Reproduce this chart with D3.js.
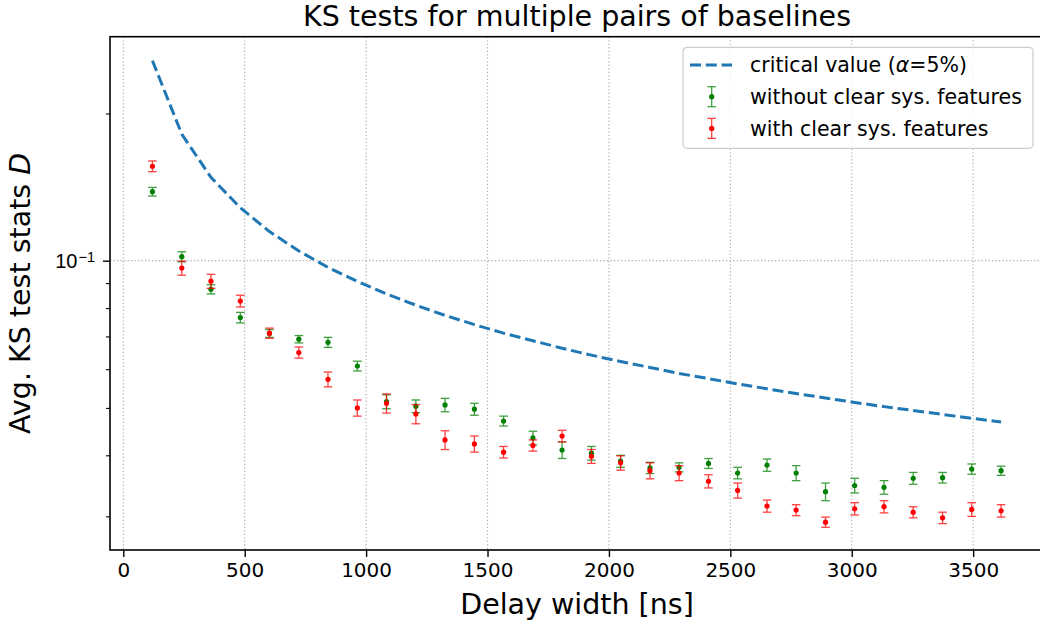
<!DOCTYPE html>
<html>
<head>
<meta charset="utf-8">
<script src="https://cdn.jsdelivr.net/npm/d3@7"></script>
<style>
  body { margin: 0; background: #fff; }
  svg { font-family: "DejaVu Sans", sans-serif; }
</style>
</head>
<body>
<div id="chart"></div>
<script>
// delay widths [ns]
const delays = [120, 241, 361, 482, 602, 723, 843, 964, 1084, 1205, 1325, 1446, 1566, 1687, 1807,
  1928, 2048, 2169, 2289, 2410, 2530, 2651, 2771, 2892, 3012, 3133, 3253, 3374, 3494, 3615];

// critical value of the KS test (alpha = 5%)
const critical = [0.2565, 0.1814, 0.1481, 0.1283, 0.1147, 0.1047, 0.0969, 0.0907, 0.0855, 0.0811,
  0.0773, 0.0740, 0.0711, 0.0686, 0.0662, 0.0641, 0.0622, 0.0605, 0.0588, 0.0574,
  0.0560, 0.0547, 0.0535, 0.0524, 0.0513, 0.0503, 0.0494, 0.0485, 0.0476, 0.0468];

// without clear sys. features (green)
const cleanMean = [0.1384, 0.1019, 0.0874, 0.0765, 0.0710, 0.0691, 0.0681, 0.0609, 0.0515, 0.0504,
  0.0507, 0.0497, 0.0470, 0.0434, 0.0410, 0.0404, 0.0389, 0.0377, 0.0378, 0.0385,
  0.0368, 0.0382, 0.0368, 0.0337, 0.0347, 0.0344, 0.0359, 0.0360, 0.0375, 0.0372];
const cleanErr = [0.0028, 0.0024, 0.0019, 0.0019, 0.0013, 0.0012, 0.0016, 0.0014, 0.0017, 0.0015,
  0.0016, 0.0014, 0.0011, 0.0014, 0.0016, 0.0013, 0.0011, 0.0010, 0.0008, 0.0009,
  0.0010, 0.0011, 0.0013, 0.0014, 0.0012, 0.0011, 0.0010, 0.0009, 0.0009, 0.0008];

// with clear sys. features (red)
const sysMean = [0.1560, 0.0966, 0.0908, 0.0827, 0.0711, 0.0649, 0.0572, 0.0500, 0.0511, 0.0486,
  0.0430, 0.0422, 0.0406, 0.0419, 0.0438, 0.0398, 0.0386, 0.0372, 0.0368, 0.0354,
  0.0339, 0.0315, 0.0309, 0.0292, 0.0311, 0.0314, 0.0306, 0.0298, 0.0310, 0.0308];
const sysErr = [0.0039, 0.0032, 0.0030, 0.0023, 0.0017, 0.0017, 0.0020, 0.0019, 0.0023, 0.0022,
  0.0019, 0.0016, 0.0011, 0.0011, 0.0012, 0.0013, 0.0013, 0.0014, 0.0013, 0.0011,
  0.0012, 0.0009, 0.0008, 0.0007, 0.0009, 0.0009, 0.0008, 0.0008, 0.0010, 0.0009];

const xTicks = [0, 500, 1000, 1500, 2000, 2500, 3000, 3500];
const yMajorTicks = [0.1];
const yMinorTicks = [0.03, 0.04, 0.05, 0.06, 0.07, 0.08, 0.09, 0.2];

const width = 1040;
const height = 630;
const margin = { top: 36.7, right: -3.5, bottom: 80, left: 110 };
const plotW = width - margin.left - margin.right;
const plotH = height - margin.top - margin.bottom;

const svg = d3.select("#chart")
  .append("svg")
  .attr("width", width)
  .attr("height", height);

svg.append("rect").attr("width", width).attr("height", height).attr("fill", "#fff");

const xScale = d3.scaleLinear().domain([-54.7, 3789.7]).range([0, plotW]);
const yScale = d3.scaleLog().domain([0.02561, 0.2871]).range([plotH, 0]);

const g = svg.append("g")
  .attr("transform", `translate(${margin.left},${margin.top})`);

svg.append("defs").append("clipPath").attr("id", "clip")
  .append("rect").attr("width", plotW).attr("height", plotH);

// grid
const grid = g.append("g").attr("stroke", "#b0b0b0").attr("stroke-width", 1.2)
  .attr("stroke-dasharray", "1.3,2.2");
grid.selectAll(".gx").data(xTicks).join("line")
  .attr("x1", d => xScale(d)).attr("x2", d => xScale(d))
  .attr("y1", 0).attr("y2", plotH);
grid.selectAll(".gy").data(yMajorTicks).join("line")
  .attr("x1", 0).attr("x2", plotW)
  .attr("y1", d => yScale(d)).attr("y2", d => yScale(d));

const plot = g.append("g").attr("clip-path", "url(#clip)");

// critical value curve
const line = d3.line()
  .x((d, i) => xScale(delays[i]))
  .y(d => yScale(d));

plot.append("path")
  .datum(critical)
  .attr("fill", "none")
  .attr("stroke", "#1f77b4")
  .attr("stroke-width", 3)
  .attr("stroke-dasharray", "11,4.8")
  .attr("d", line);

// error bars
function drawSeries(means, errs, color) {
  const s = plot.append("g");
  const bars = s.append("g").attr("stroke", color).attr("stroke-width", 1.3).attr("opacity", 0.75);
  means.forEach((m, i) => {
    const x = xScale(delays[i]);
    const y0 = yScale(m - errs[i]);
    const y1 = yScale(m + errs[i]);
    bars.append("line").attr("x1", x).attr("x2", x).attr("y1", y0).attr("y2", y1);
    bars.append("line").attr("x1", x - 4.3).attr("x2", x + 4.3).attr("y1", y0).attr("y2", y0);
    bars.append("line").attr("x1", x - 4.3).attr("x2", x + 4.3).attr("y1", y1).attr("y2", y1);
  });
  s.selectAll("circle").data(means).join("circle")
    .attr("cx", (d, i) => xScale(delays[i]))
    .attr("cy", d => yScale(d))
    .attr("r", 2.6)
    .attr("fill", color);
}
drawSeries(cleanMean, cleanErr, "green");
drawSeries(sysMean, sysErr, "red");

// axes
const xAxis = g.append("g")
  .attr("transform", `translate(0,${plotH})`)
  .call(d3.axisBottom(xScale).tickValues(xTicks).tickSize(7).tickPadding(6).tickFormat(d3.format("d")));
xAxis.select(".domain").remove();
xAxis.selectAll("line").attr("stroke-width", 1.4);
xAxis.selectAll("text").attr("font-size", 20).attr("fill", "#000").attr("font-family", "DejaVu Sans");

const yAxis = g.append("g")
  .call(d3.axisLeft(yScale).tickValues(yMajorTicks).tickSize(7).tickPadding(6).tickFormat(""));
yAxis.select(".domain").remove();
yAxis.selectAll("line").attr("stroke-width", 1.4);
yAxis.selectAll(".tick").append("text")
  .attr("x", -15).attr("dy", "0.36em")
  .attr("text-anchor", "end")
  .attr("fill", "#000")
  .attr("font-size", 20)
  .call(t => {
    t.append("tspan").text("10");
    t.append("tspan").attr("dx", 1).attr("dy", "-0.45em").attr("font-size", 14.5).text("\u22121");
  });

const yMinor = g.append("g")
  .call(d3.axisLeft(yScale).tickValues(yMinorTicks).tickSize(4).tickFormat(""));
yMinor.select(".domain").remove();
yMinor.selectAll("line").attr("stroke-width", 1.1);

// frame
g.append("rect")
  .attr("width", plotW).attr("height", plotH)
  .attr("fill", "none").attr("stroke", "#000").attr("stroke-width", 1.6);

// title and labels
svg.append("text")
  .attr("x", 577)
  .attr("y", 26)
  .attr("text-anchor", "middle")
  .attr("font-size", 28.5)
  .text("KS tests for multiple pairs of baselines");

svg.append("text")
  .attr("x", 577)
  .attr("y", 614)
  .attr("text-anchor", "middle")
  .attr("font-size", 28.5)
  .text("Delay width [ns]");

const yl = svg.append("text")
  .attr("transform", `translate(30,${margin.top + plotH / 2}) rotate(-90)`)
  .attr("text-anchor", "middle")
  .attr("font-size", 28.5);
yl.append("tspan").text("Avg. KS test stats ");
yl.append("tspan").attr("font-style", "italic").text("D");

// legend
const lg = svg.append("g").attr("transform", "translate(683,47.3)");
lg.append("rect")
  .attr("width", 350).attr("height", 101).attr("rx", 4)
  .attr("fill", "#fff").attr("fill-opacity", 0.8)
  .attr("stroke", "#cccccc").attr("stroke-width", 1.2);

const legendItems = [
  { label: ["critical value (", "\u03b1", "=5%)"], kind: "line", color: "#1f77b4" },
  { label: ["without clear sys. features"], kind: "err", color: "green" },
  { label: ["with clear sys. features"], kind: "err", color: "red" }
];
legendItems.forEach((d, i) => {
  const row = lg.append("g").attr("transform", `translate(0,${17.7 + i * 31.7})`);
  if (d.kind === "line") {
    row.append("line").attr("x1", 7).attr("x2", 49).attr("y1", 0).attr("y2", 0)
      .attr("stroke", d.color).attr("stroke-width", 3).attr("stroke-dasharray", "11,4.8");
  } else {
    const bar = row.append("g").attr("stroke", d.color).attr("stroke-width", 1.3).attr("opacity", 0.75);
    bar.append("line").attr("x1", 28.7).attr("x2", 28.7).attr("y1", -10).attr("y2", 10);
    bar.append("line").attr("x1", 24.4).attr("x2", 33).attr("y1", -10).attr("y2", -10);
    bar.append("line").attr("x1", 24.4).attr("x2", 33).attr("y1", 10).attr("y2", 10);
    row.append("circle").attr("cx", 28.7).attr("cy", 0).attr("r", 2.6).attr("fill", d.color);
  }
  const txt = row.append("text").attr("x", 67).attr("dy", "0.36em").attr("font-size", 20.5);
  d.label.forEach((part, j) => {
    txt.append("tspan").attr("font-style", part === "\u03b1" ? "italic" : null).text(part);
  });
});
</script>
</body>
</html>
